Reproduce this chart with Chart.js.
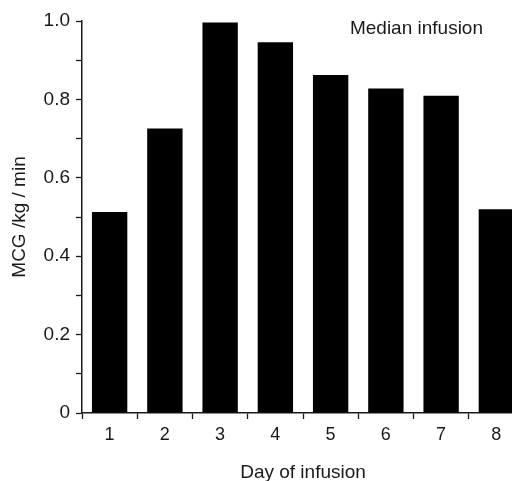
<!DOCTYPE html>
<html>
<head>
<meta charset="utf-8">
<script src="https://cdn.jsdelivr.net/npm/chart.js@4"></script>
<style>
  html, body { margin: 0; padding: 0; background: #fff; overflow: hidden; }
  #wrap { width: 512px; height: 481px; overflow: hidden; }
  #box { width: 540px; height: 481px; }
</style>
</head>
<body>
<div id="wrap"><div id="box"><canvas id="infusionChart"></canvas></div></div>
<script>
const days = ['1', '2', '3', '4', '5', '6', '7', '8'];
const medianDose = [0.513, 0.726, 0.996, 0.946, 0.862, 0.828, 0.809, 0.52];
const yTickLabels = ['0', '0.2', '0.4', '0.6', '0.8', '1.0'];
const noteText = 'Median infusion';

const FONT = "'Liberation Sans', Arial, Helvetica, sans-serif";
const INK = '#1a1a1a';

// corner note sits inside the plot, top right
const notePlugin = {
  id: 'note',
  afterDraw(chart) {
    const { ctx, chartArea } = chart;
    ctx.save();
    ctx.font = '19px ' + FONT;
    ctx.fillStyle = INK;
    ctx.textAlign = 'right';
    ctx.textBaseline = 'middle';
    ctx.fillText(noteText, chartArea.right - 41, chartArea.top + 8);
    ctx.restore();
  }
};

const ctx = document.getElementById('infusionChart').getContext('2d');
const chart = new Chart(ctx, {
  type: 'bar',
  data: {
    labels: days,
    datasets: [{
      label: noteText,
      data: medianDose,
      backgroundColor: '#000',
      borderWidth: 0,
      categoryPercentage: 1,
      barPercentage: 0.64
    }]
  },
  options: {
    responsive: true,
    maintainAspectRatio: false,
    animation: false,
    layout: { padding: { top: 21, right: 16, left: 0, bottom: 0 } },
    plugins: {
      legend: { display: false },
      tooltip: { enabled: false }
    },
    scales: {
      x: {
        offset: true,
        grid: {
          offset: true,
          drawOnChartArea: false,
          drawTicks: true,
          tickLength: 6,
          tickWidth: 1.3,
          tickColor: INK
        },
        border: { display: true, color: INK, width: 1.5 },
        ticks: { color: INK, font: { family: FONT, size: 18 }, padding: 5, maxRotation: 0 },
        title: {
          display: true,
          text: 'Day of infusion',
          color: INK,
          font: { family: FONT, size: 19 },
          padding: { top: 12, bottom: -3 }
        },
        afterFit(scale) { scale.height = 68; }
      },
      y: {
        min: 0,
        max: 1.0,
        ticks: {
          stepSize: 0.1,
          color: INK,
          font: { family: FONT, size: 19 },
          padding: 6,
          callback(value) {
            const k = Math.round(value * 10);
            return k % 2 === 0 ? yTickLabels[k / 2] : '';
          }
        },
        grid: {
          drawOnChartArea: false,
          drawTicks: true,
          tickLength: 6,
          tickWidth: 1.3,
          tickColor: INK
        },
        border: { display: true, color: INK, width: 1.5 },
        title: {
          display: true,
          text: 'MCG /kg / min',
          color: INK,
          font: { family: FONT, size: 19 },
          padding: { top: 8, bottom: 0 }
        },
        afterFit(scale) { scale.width = 82; }
      }
    }
  },
  plugins: [notePlugin]
});
</script>
</body>
</html>
